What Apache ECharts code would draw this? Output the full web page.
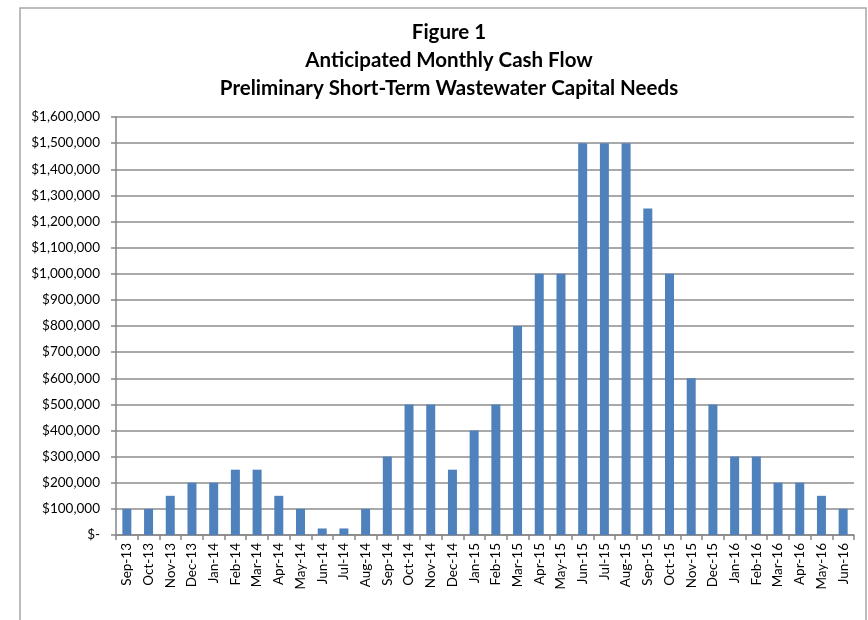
<!DOCTYPE html>
<html>
<head>
<meta charset="utf-8">
<script src="https://cdn.jsdelivr.net/npm/echarts@6/dist/echarts.min.js"></script>
<style>
  html, body { margin: 0; padding: 0; background: #fff; }
  #chart { width: 868px; height: 620px; }
</style>
</head>
<body>
<div id="chart"></div>
<script>
  const titleLines = [
    'Figure 1',
    'Anticipated Monthly Cash Flow',
    'Preliminary Short-Term Wastewater Capital Needs',
  ];

  const months = [
    'Sep-13', 'Oct-13', 'Nov-13', 'Dec-13', 'Jan-14', 'Feb-14', 'Mar-14', 'Apr-14',
    'May-14', 'Jun-14', 'Jul-14', 'Aug-14', 'Sep-14', 'Oct-14', 'Nov-14', 'Dec-14',
    'Jan-15', 'Feb-15', 'Mar-15', 'Apr-15', 'May-15', 'Jun-15', 'Jul-15', 'Aug-15',
    'Sep-15', 'Oct-15', 'Nov-15', 'Dec-15', 'Jan-16', 'Feb-16', 'Mar-16', 'Apr-16',
    'May-16', 'Jun-16',
  ];

  const cashFlow = [
    100000, 100000, 150000, 200000, 200000, 250000, 250000, 150000,
    100000, 25000, 25000, 100000, 300000, 500000, 500000, 250000,
    400000, 500000, 800000, 1000000, 1000000, 1500000, 1500000, 1500000,
    1250000, 1000000, 600000, 500000, 300000, 300000, 200000, 200000,
    150000, 100000,
  ];

  const yMax = 1600000;
  const yStep = 100000;

  function money(v) {
    if (v === 0) return '$-';
    return '$' + v.toString().replace(/\B(?=(\d{3})+(?!\d))/g, ',');
  }

  const chart = echarts.init(document.getElementById('chart'));
  chart.setOption({
    animation: false,
    backgroundColor: '#fff',
    textStyle: { fontFamily: 'Lato' },
    graphic: [
      {
        type: 'rect',
        shape: { x: 20, y: 8, width: 846, height: 700 },
        style: { fill: 'none', stroke: '#a6a6a6', lineWidth: 1.5 },
      },
    ],
    title: {
      text: titleLines.join('\n'),
      left: 444,
      top: 13,
      textAlign: 'center',
      textStyle: {
        fontFamily: 'Lato',
        fontSize: 20.5,
        fontWeight: 'bold',
        color: '#000',
        lineHeight: 28,
      },
    },
    grid: {
      left: 116,
      right: 14,
      top: 117,
      bottom: 85,
    },
    xAxis: {
      type: 'category',
      data: months,
      axisLine: { lineStyle: { color: '#868686', width: 1.5 } },
      axisTick: { show: true, length: 5, lineStyle: { color: '#868686', width: 1.5 } },
      axisLabel: {
        rotate: 90,
        interval: 0,
        margin: 8,
        color: '#000',
        fontSize: 13.5,
        fontFamily: 'Lato',
      },
    },
    yAxis: {
      type: 'value',
      min: 0,
      max: yMax,
      interval: yStep,
      axisLine: { show: true, lineStyle: { color: '#868686', width: 1.5 } },
      axisTick: { show: true, length: 5, lineStyle: { color: '#868686', width: 1.5 } },
      splitLine: { lineStyle: { color: '#8c8c8c', width: 1.5 } },
      axisLabel: {
        color: '#000',
        fontSize: 13.5,
        fontFamily: 'Lato',
        margin: 16,
        formatter: money,
      },
    },
    series: [
      {
        type: 'bar',
        data: cashFlow,
        barWidth: 9,
        itemStyle: { color: '#4f81bd' },
      },
    ],
  });
</script>
</body>
</html>
